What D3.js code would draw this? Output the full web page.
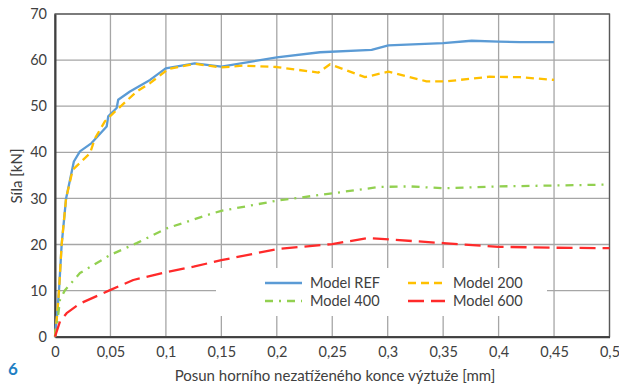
<!DOCTYPE html>
<html>
<head>
<meta charset="utf-8">
<script src="https://cdn.jsdelivr.net/npm/d3@7"></script>
<style>
  body { margin: 0; background: #fff; }
  text { font-family: 'Source Sans Pro', Lato, 'Noto Sans', sans-serif; fill: #404040; }
</style>
</head>
<body>
<svg id="chart"></svg>
<script>
// data: [displacement mm, force kN]
const modelRef = [[0,0],[0.002,5],[0.0036,10],[0.006,20],[0.010,30],[0.017,38],[0.0225,40.2],[0.033,42],
  [0.0466,45.6],[0.048,47.8],[0.0556,49.6],[0.057,51.4],[0.0676,53.2],[0.0857,55.7],[0.0998,58.2],[0.126,59.3],
  [0.150,58.6],[0.2,60.6],[0.239,61.7],[0.2855,62.2],[0.3006,63.2],[0.35,63.7],[0.3757,64.2],[0.4,64.0],
  [0.4194,63.9],[0.45,63.9]];
const model200 = [[0,0],[0.002,5],[0.0036,10],[0.006,20],[0.010,30],[0.016,36.2],[0.0255,38.4],[0.0316,39.8],
  [0.036,43],[0.045,46.7],[0.0526,48.5],[0.0737,53.2],[0.0857,55.0],[0.0992,57.5],[0.101,58.0],[0.126,59.2],
  [0.150,58.4],[0.17,58.8],[0.2,58.5],[0.2375,57.3],[0.248,59.1],[0.2795,56.3],[0.3006,57.5],[0.335,55.4],
  [0.353,55.4],[0.392,56.4],[0.419,56.3],[0.45,55.7]];
const model400 = [[0,0],[0.002,3],[0.0045,8],[0.009,10.1],[0.0225,13.8],[0.0496,17.7],[0.0737,20.3],[0.1007,23.5],
  [0.14,26.6],[0.15,27.3],[0.2,29.5],[0.25,31.1],[0.293,32.5],[0.32,32.6],[0.35,32.2],[0.4,32.6],[0.45,32.8],[0.5,33.0]];
const model600 = [[0,0],[0.0045,3.3],[0.0105,5.1],[0.0225,7.2],[0.0496,10.1],[0.0706,12.3],[0.1007,14.0],
  [0.125,15.2],[0.15,16.6],[0.2,19.0],[0.25,20.1],[0.2825,21.4],[0.35,20.3],[0.4,19.5],[0.45,19.3],[0.5,19.2]];

const xTicks = [0,0.05,0.1,0.15,0.2,0.25,0.3,0.35,0.4,0.45,0.5];
const yTicks = [0,10,20,30,40,50,60,70];

const series = [
  { name: 'Model REF', data: modelRef, color: '#5b9bd5', dash: null },
  { name: 'Model 200', data: model200, color: '#ffc000', dash: '8,5' },
  { name: 'Model 400', data: model400, color: '#92d050', dash: '8,6,2,6' },
  { name: 'Model 600', data: model600, color: '#ff2a2a', dash: '16,7' }
];

const W = 619, H = 385;
const margin = {top: 14, right: 9.5, bottom: 48.3, left: 55};
const width = W - margin.left - margin.right,
  height = H - margin.top - margin.bottom;
const fontSize = 14.5;

const svg = d3.select('#chart').attr('width', W).attr('height', H);
const g = svg.append('g').attr('transform', 'translate(' + margin.left + ',' + margin.top + ')');

const x = d3.scaleLinear().domain([0, 0.5]).range([0, width]);
const y = d3.scaleLinear().domain([0, 70]).range([height, 0]);

const fmt = d => String(d).replace('.', ',');

// grid
g.append('g').selectAll('line').data(xTicks).join('line')
  .attr('x1', d => x(d)).attr('x2', d => x(d)).attr('y1', 0).attr('y2', height)
  .attr('stroke', '#a6a6a6').attr('stroke-width', 1.3);
g.append('g').selectAll('line').data(yTicks).join('line')
  .attr('x1', 0).attr('x2', width).attr('y1', d => y(d)).attr('y2', d => y(d))
  .attr('stroke', '#a6a6a6').attr('stroke-width', 1.3);

// frame
g.append('rect').attr('width', width).attr('height', height)
  .attr('fill', 'none').attr('stroke', '#595959').attr('stroke-width', 1.3);

// axes
const xAxis = d3.axisBottom(x).tickValues(xTicks).tickFormat(fmt).tickSize(0).tickPadding(10);
const yAxis = d3.axisLeft(y).tickValues(yTicks).tickSize(0).tickPadding(8);
g.append('g').attr('transform', 'translate(0,' + height + ')').call(xAxis)
  .call(a => a.select('.domain').attr('stroke', '#404040').attr('stroke-width', 2));
g.append('g').call(yAxis)
  .call(a => a.select('.domain').attr('stroke', '#404040').attr('stroke-width', 2));
g.selectAll('.tick text').attr('font-size', fontSize).attr('fill', '#404040')
  .style('font-family', "'Source Sans Pro', Lato, 'Noto Sans', sans-serif");

// lines
const line = d3.line().x(d => x(d[0])).y(d => y(d[1]));
series.forEach(s => {
  g.append('path').datum(s.data)
    .attr('d', line)
    .attr('fill', 'none')
    .attr('stroke', s.color)
    .attr('stroke-width', 2.3)
    .attr('stroke-dasharray', s.dash)
    .attr('stroke-linejoin', 'round');
});

// legend
const leg = svg.append('g');
leg.append('rect').attr('x', 216).attr('y', 268).attr('width', 331).attr('height', 48)
  .attr('fill', '#fff');
const legPos = [[265, 283], [408, 283], [265, 301], [408, 301]];
series.forEach((s, i) => {
  const [lx, ly] = legPos[i];
  leg.append('line').attr('x1', lx).attr('x2', lx + 37).attr('y1', ly).attr('y2', ly)
    .attr('stroke', s.color).attr('stroke-width', 2.3).attr('stroke-dasharray', s.dash);
  leg.append('text').attr('x', lx + 45).attr('y', ly + 5).attr('font-size', fontSize).text(s.name);
});

// titles
svg.append('text').attr('x', 335).attr('y', 381).attr('text-anchor', 'middle')
  .attr('font-size', 15).text('Posun horního nezatíženého konce výztuže [mm]');
svg.append('text').attr('transform', 'translate(22,176) rotate(-90)').attr('text-anchor', 'middle')
  .attr('font-size', 15).text('Síla [kN]');
svg.append('text').attr('x', 8).attr('y', 375).attr('font-size', 17).attr('font-weight', 'bold')
  .style('fill', '#1f7fc4').text('6');
</script>
</body>
</html>
